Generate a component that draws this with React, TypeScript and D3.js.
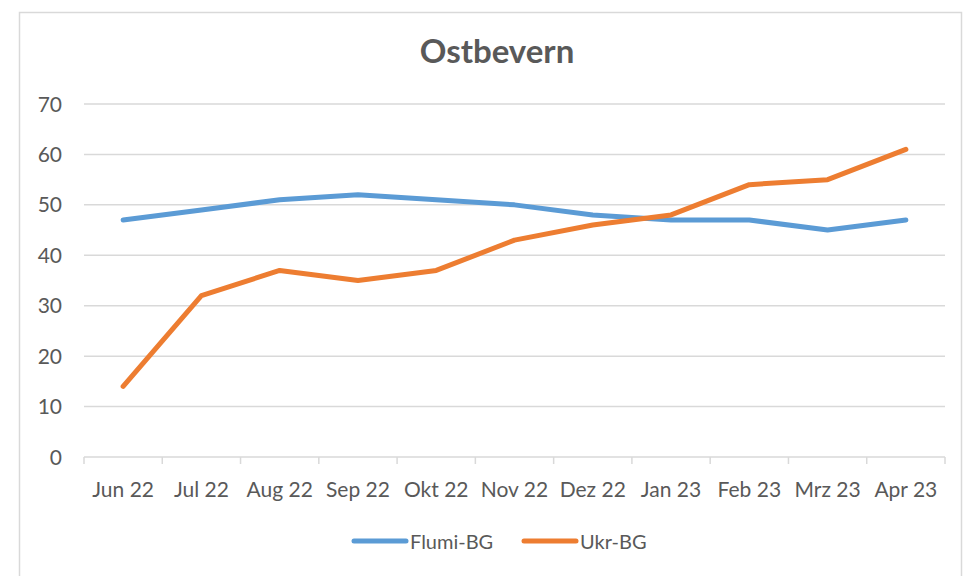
import React from "react";
import * as d3 from "d3";

const months = ["Jun 22", "Jul 22", "Aug 22", "Sep 22", "Okt 22", "Nov 22", "Dez 22", "Jan 23", "Feb 23", "Mrz 23", "Apr 23"];
const flumi = [47, 49, 51, 52, 51, 50, 48, 47, 47, 45, 47];
const ukr = [14, 32, 37, 35, 37, 43, 46, 48, 54, 55, 61];
const yTicks = [0, 10, 20, 30, 40, 50, 60, 70];

const series = [
  { name: "Flumi-BG", values: flumi, color: "#5B9BD5" },
  { name: "Ukr-BG", values: ukr, color: "#ED7D31" },
];

const W = 975;
const H = 576;
const left = 84;
const right = 945;
const top = 104;
const bottom = 457;
const font = "Lato, 'Open Sans', sans-serif";
const textColor = "#595959";

export default function App() {
  const x = d3.scaleBand().domain(months).range([left, right]);
  const y = d3.scaleLinear().domain([0, 70]).range([bottom, top]);
  const line = d3
    .line<number>()
    .x((_, i) => (x(months[i]) ?? 0) + x.bandwidth() / 2)
    .y((d) => y(d));

  const tickXs = months.map((m) => x(m) ?? 0).concat([right]);

  return (
    <svg width={W} height={H} style={{ position: "absolute", left: 0, top: 0 }}>
      <rect x={0} y={0} width={W} height={H} fill="#fff" />
      <rect x={19.5} y={12.5} width={942} height={H} fill="#fff" stroke="#D9D9D9" strokeWidth={1.5} />
      <text x={497} y={63} textAnchor="middle" fontFamily={font} fontWeight="bold" fontSize={33} fill={textColor}>
        Ostbevern
      </text>
      {yTicks.map((t) => (
        <g key={t}>
          {t > 0 && <line x1={left} x2={right} y1={y(t)} y2={y(t)} stroke="#D9D9D9" strokeWidth={1.5} />}
          <text x={62} y={y(t)} dy="0.36em" textAnchor="end" fontFamily={font} fontSize={21} fill={textColor}>
            {t}
          </text>
        </g>
      ))}
      <line x1={left} x2={right} y1={bottom} y2={bottom} stroke="#D9D9D9" strokeWidth={1.5} />
      {tickXs.map((tx, i) => (
        <line key={i} x1={tx} x2={tx} y1={bottom} y2={bottom + 7} stroke="#D9D9D9" strokeWidth={1.5} />
      ))}
      {months.map((m) => (
        <text
          key={m}
          x={(x(m) ?? 0) + x.bandwidth() / 2}
          y={497}
          textAnchor="middle"
          fontFamily={font}
          fontSize={21}
          fill={textColor}
        >
          {m}
        </text>
      ))}
      {series.map((s) => (
        <path
          key={s.name}
          d={line(s.values) ?? ""}
          fill="none"
          stroke={s.color}
          strokeWidth={5}
          strokeLinejoin="round"
          strokeLinecap="round"
        />
      ))}
      {series.map((s, i) => {
        const lx = i === 0 ? 354 : 524;
        return (
          <g key={s.name}>
            <line x1={lx} x2={lx + 52} y1={541} y2={541} stroke={s.color} strokeWidth={5} strokeLinecap="round" />
            <text x={lx + 56} y={549} fontFamily={font} fontSize={20} fill={textColor}>
              {s.name}
            </text>
          </g>
        );
      })}
    </svg>
  );
}
